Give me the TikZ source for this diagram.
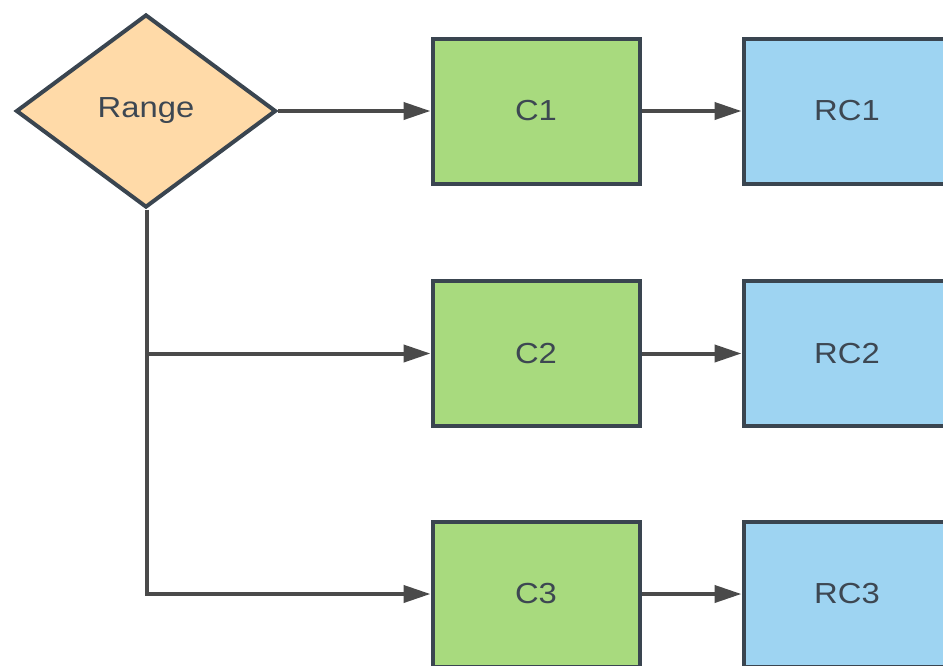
\documentclass[tikz,border=0pt]{standalone}
\usepackage{fontspec}
\setmainfont[FakeStretch=1.13]{Liberation Sans}
\usetikzlibrary{shapes.geometric,arrows.meta}
\definecolor{bordc}{RGB}{58,69,80}
\definecolor{linec}{RGB}{74,74,74}
\definecolor{txtc}{RGB}{61,71,82}
\definecolor{orangef}{RGB}{255,218,168}
\definecolor{greenf}{RGB}{168,218,126}
\definecolor{bluef}{RGB}{158,212,242}
\tikzset{
  base/.style={draw=bordc, line width=4pt, text=txtc, font=\fontsize{29}{34}\selectfont, inner sep=0pt},
  decis/.style={base, shape=diamond, fill=orangef, minimum width=260pt, minimum height=193pt},
  cbox/.style={base, rectangle, fill=greenf, minimum width=207pt, minimum height=145pt},
  rbox/.style={base, rectangle, fill=bluef, minimum width=207pt, minimum height=145pt},
  conn/.style={draw=linec, line width=4pt, -{Triangle[length=27pt,width=17pt]}}
}
\begin{document}
\begin{tikzpicture}[x=1pt,y=-1pt]
\useasboundingbox (0,0) rectangle (943,665);
\clip (0,0) rectangle (943,665);
\node[decis] (range) at (146,111) {Range};
\node[cbox] (c1) at (536,111) {C1};
\node[cbox] (c2) at (536,353.5) {C2};
\node[cbox] (c3) at (536,594) {C3};
\node[rbox] (rc1) at (847,111) {RC1};
\node[rbox] (rc2) at (847,353.5) {RC2};
\node[rbox] (rc3) at (847,594) {RC3};
\coordinate (br) at (147,353.5);
\draw[conn] (range.east) -- (c1.west);
\draw[conn] (range.south -| br) |- (c3.west);
\draw[conn] (br) -- (c2.west);
\draw[conn] (c1.east) -- (rc1.west);
\draw[conn] (c2.east) -- (rc2.west);
\draw[conn] (c3.east) -- (rc3.west);
\end{tikzpicture}
\end{document}
